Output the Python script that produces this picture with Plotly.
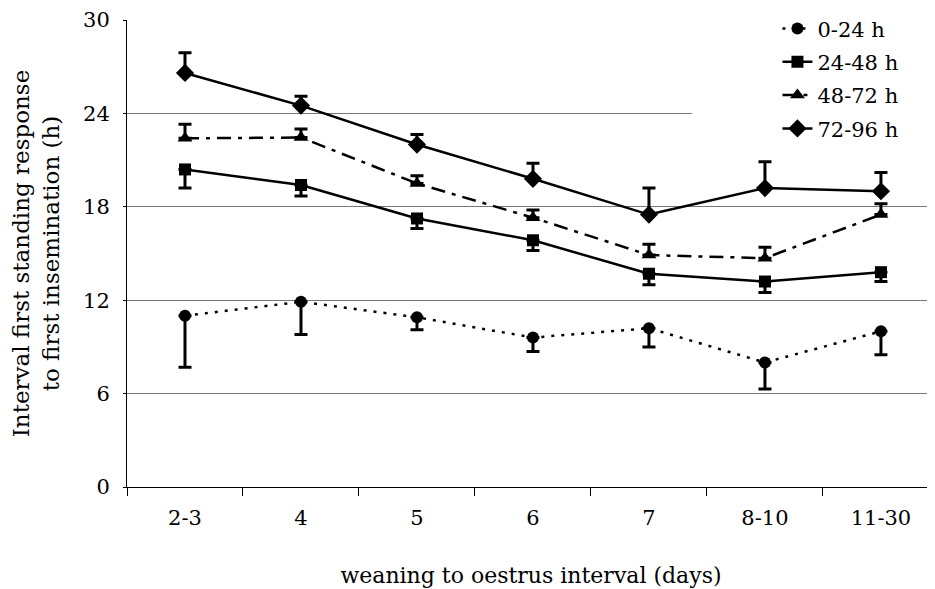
import plotly.graph_objects as go

categories = ["2-3", "4", "5", "6", "7", "8-10", "11-30"]

h0_24 = [11.0, 11.9, 10.9, 9.6, 10.2, 8.0, 10.0]
h0_24_low = [7.7, 9.8, 10.1, 8.7, 9.0, 6.3, 8.5]

h24_48 = [20.4, 19.4, 17.25, 15.85, 13.7, 13.2, 13.8]
h24_48_low = [19.2, 18.7, 16.6, 15.2, 13.0, 12.5, 13.2]

h48_72 = [22.4, 22.45, 19.5, 17.3, 14.9, 14.7, 17.5]
h48_72_high = [23.3, 23.0, 20.0, 17.8, 15.6, 15.4, 18.2]

h72_96 = [26.6, 24.5, 22.0, 19.8, 17.5, 19.2, 19.0]
h72_96_high = [27.9, 25.1, 22.65, 20.8, 19.2, 20.9, 20.2]

FONT = "DejaVu Serif"
BLACK = "#000000"

def err_up(vals, highs):
    return dict(type="data", symmetric=False,
                array=[h - v for v, h in zip(vals, highs)],
                arrayminus=[0] * len(vals),
                color=BLACK, thickness=3, width=6.5)

def err_down(vals, lows):
    return dict(type="data", symmetric=False,
                array=[0] * len(vals),
                arrayminus=[v - l for v, l in zip(vals, lows)],
                color=BLACK, thickness=3, width=6.5)

fig = go.Figure()
fig.add_trace(go.Scatter(
    x=categories, y=h0_24, name="0-24 h", mode="lines+markers",
    line=dict(color=BLACK, width=2.5, dash="3px,7px"),
    marker=dict(symbol="circle", size=12, color=BLACK),
    error_y=err_down(h0_24, h0_24_low), legendgroup="a"))
fig.add_trace(go.Scatter(
    x=categories, y=h24_48, name="24-48 h", mode="lines+markers",
    line=dict(color=BLACK, width=2.5),
    marker=dict(symbol="square", size=12, color=BLACK),
    error_y=err_down(h24_48, h24_48_low), legendgroup="b"))
fig.add_trace(go.Scatter(
    x=categories, y=h48_72, name="48-72 h", mode="lines+markers",
    line=dict(color=BLACK, width=2.5, dash="14px,7px,4px,7px"),
    marker=dict(symbol="triangle-up", size=13, color=BLACK),
    error_y=err_up(h48_72, h48_72_high), legendgroup="c"))
fig.add_trace(go.Scatter(
    x=categories, y=h72_96, name="72-96 h", mode="lines+markers",
    line=dict(color=BLACK, width=2.5),
    marker=dict(symbol="diamond", size=14, color=BLACK),
    error_y=err_up(h72_96, h72_96_high), legendgroup="d"))

fig.add_shape(type="rect", xref="paper", yref="y",
              x0=0.699, x1=1.02, y0=22.6, y1=30.6,
              fillcolor="white", line=dict(width=0), layer="above")

fig.update_layout(
    width=927, height=581,
    margin=dict(l=119, r=0, t=12, b=102),
    paper_bgcolor="white", plot_bgcolor="white",
    font=dict(family=FONT, size=21, color=BLACK),
    showlegend=True,
    legend=dict(x=0.805, y=1.025, xanchor="left", yanchor="top",
                bgcolor="rgba(0,0,0,0)", font=dict(family=FONT, size=21),
                tracegroupgap=3),
    xaxis=dict(
        type="category", range=[-0.5, 6.466],
        showline=True, linecolor=BLACK, linewidth=1,
        ticks="outside", ticklen=8, tickcolor=BLACK, tickson="boundaries",
        showgrid=False, zeroline=False, ticklabelstandoff=12,
        tickfont=dict(family=FONT, size=21),
        title=dict(text="weaning to oestrus interval (days)",
                   font=dict(family=FONT, size=22), standoff=38),
    ),
    yaxis=dict(
        range=[0, 30], tickvals=[0, 6, 12, 18, 24, 30],
        showline=True, linecolor=BLACK, linewidth=1,
        ticks="outside", ticklen=3, tickcolor=BLACK,
        showgrid=True, gridcolor="#777777", gridwidth=1,
        zeroline=False, ticklabelstandoff=9,
        tickfont=dict(family=FONT, size=21),
        title=dict(text="Interval first standing response<br>to first insemination (h)",
                   font=dict(family=FONT, size=23), standoff=18),
    ),
)

fig.write_html("out.html")
